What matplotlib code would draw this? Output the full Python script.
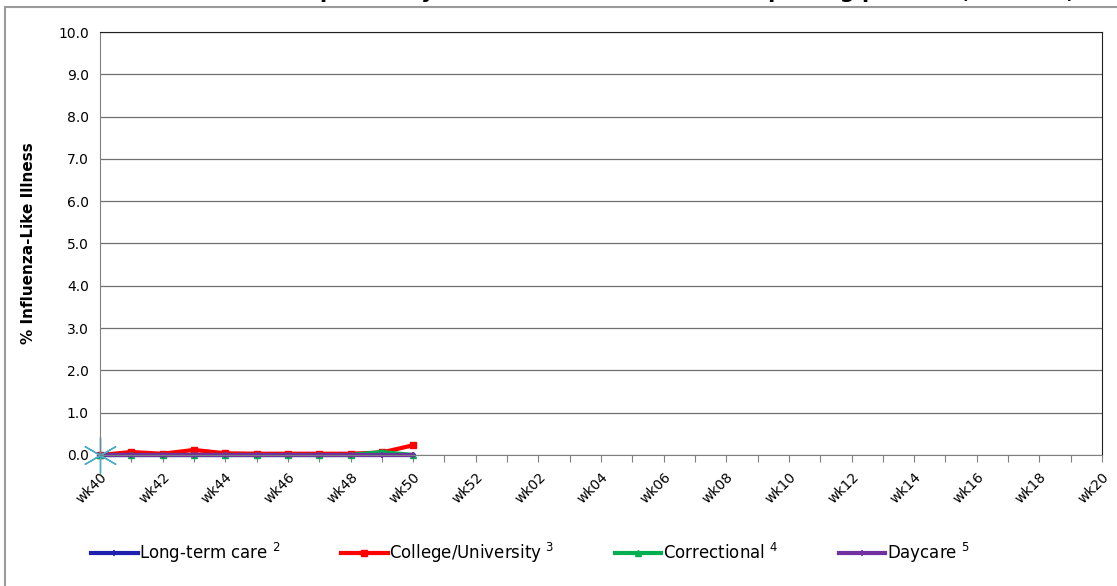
import numpy as np
import matplotlib.pyplot as plt
from matplotlib.patches import Rectangle

# semanas da temporada (wk40 -> wk20)
weeks = ["wk40", "wk41", "wk42", "wk43", "wk44", "wk45", "wk46", "wk47", "wk48", "wk49",
         "wk50", "wk51", "wk52", "wk01", "wk02", "wk03", "wk04", "wk05", "wk06", "wk07",
         "wk08", "wk09", "wk10", "wk11", "wk12", "wk13", "wk14", "wk15", "wk16", "wk17",
         "wk18", "wk19", "wk20"]

# valores observados ate wk50
long_term = [0.0, 0.0, 0.0, 0.0, 0.0, 0.0, 0.0, 0.0, 0.0, 0.0, 0.0]
college = [0.0, 0.07, 0.03, 0.12, 0.04, 0.03, 0.03, 0.03, 0.03, 0.06, 0.23]
correctional = [0.0, 0.0, 0.0, 0.0, 0.0, 0.0, 0.0, 0.0, 0.0, 0.07, 0.0]
daycare = [0.0, 0.0, 0.0, 0.0, 0.0, 0.0, 0.0, 0.0, 0.0, 0.0, 0.0]
other = [0.0]

W, H = 1117, 586
fig = plt.figure(figsize=(W/100, H/100), dpi=100)

# moldura externa e titulo (cortado no topo, como no original)
fig.patches.append(Rectangle((5/W, -0.1), 1.2, 1.1 - 7/H, transform=fig.transFigure,
                             fill=False, edgecolor='#9a9a9a', lw=1.5))
fig.text(0.5, 1 + 8/H, "Percent of Influenza-Like Illness reported by Institutional surveillance reporting partners, Ontario, 2019-2020",
         ha='center', va='center', fontsize=15, fontweight='bold')

ax = fig.add_axes([100/W, 1 - 455/H, 1002/W, 423/H])
x = np.arange(len(weeks))

n = len(college)
ax.plot(x[:n], long_term, color='#2020b0', lw=3, marker='+', ms=5, mew=1.2, clip_on=False, label='Long-term care $^{2}$')
ax.plot(x[:n], college, color='#ff0000', lw=3, marker='s', ms=4, clip_on=False, label='College/University $^{3}$')
ax.plot(x[:n], correctional, color='#00b050', lw=3, marker='^', ms=5, clip_on=False, label='Correctional $^{4}$')
ax.plot(x[:n], daycare, color='#7030a0', lw=3, marker='+', ms=5, mew=1.2, clip_on=False, label='Daycare $^{5}$')
ax.plot(x[:len(other)], other, ls='none', marker=(6, 2, 0), ms=26, mew=1.0, color='#4bacc6', clip_on=False)

ax.set_xlim(0, len(weeks) - 1)
ax.set_ylim(0, 10)
ax.set_yticks(np.arange(0, 11, 1))
ax.set_yticklabels(["%.1f" % v for v in np.arange(0, 11, 1)], fontsize=10)
ax.tick_params(axis='y', length=0, pad=8)
ax.set_xticks(x)
ax.set_xticklabels([w if i % 2 == 0 else '' for i, w in enumerate(weeks)],
                   rotation=45, ha='right', va='top', rotation_mode='anchor', fontsize=10)
ax.tick_params(axis='x', length=5, color='#808080', pad=6)
ax.grid(axis='y', color='#707070', lw=0.9)
ax.set_axisbelow(True)

for s in ['top', 'right']:
    ax.spines[s].set_color('#202020')
ax.spines['left'].set_color('#808080')
ax.spines['bottom'].set_color('#808080')

ax.set_ylabel('% Influenza-Like Illness', fontsize=11, fontweight='bold', labelpad=16)

fig.legend(loc='center', bbox_to_anchor=(0.475, 1 - 553/H), ncol=4, frameon=False,
           fontsize=12, handlelength=2.8, columnspacing=3.6, handletextpad=0.1)

fig.savefig('out.png', dpi=100)
